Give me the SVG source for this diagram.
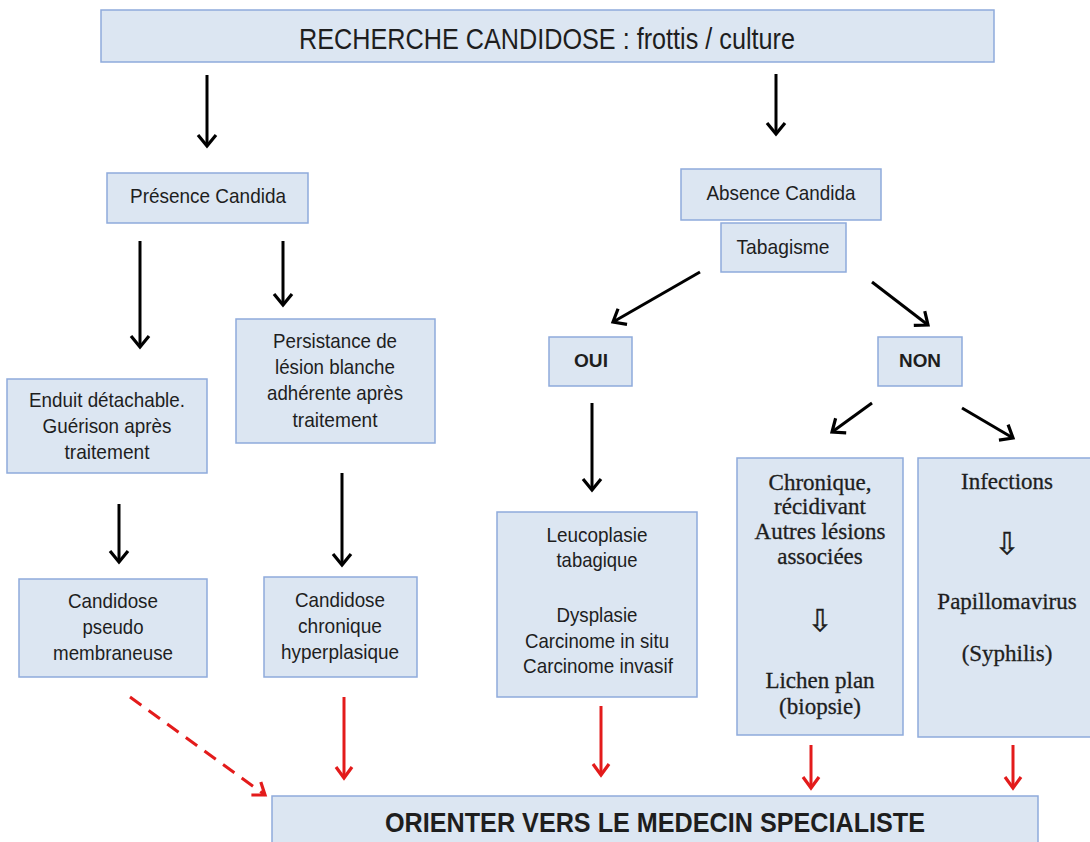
<svg xmlns="http://www.w3.org/2000/svg" width="1090" height="842" viewBox="0 0 1090 842">
<style>
.box{fill:#dce6f2;stroke:#8eaadb;stroke-width:1.5}
.s{font-family:"Liberation Sans",Arial,sans-serif;font-size:21px;fill:#1e1e1e;text-anchor:middle}
.b{font-weight:bold}
.t{font-family:"Liberation Serif","Times New Roman",serif;font-size:23px;fill:#1e1e1e;stroke:#1e1e1e;stroke-width:0.3;text-anchor:middle}
.sym{font-family:"DejaVu Sans",sans-serif;font-size:30px;fill:#1e1e1e;stroke:#1e1e1e;stroke-width:0.4;text-anchor:middle}
.k{stroke:#000;stroke-width:3;fill:none;marker-end:url(#ak)}
.r{stroke:#e31b1b;stroke-width:3;fill:none;marker-end:url(#ar)}
.d{stroke-dasharray:14 9}
</style>
<defs>
<marker id="ak" viewBox="-14 -12 16 24" refX="0" refY="0" markerWidth="16" markerHeight="24" markerUnits="userSpaceOnUse" orient="auto" overflow="visible"><path d="M-11,-9 L0,0 L-11,9" fill="none" stroke="#000" stroke-width="3.2"/></marker>
<marker id="ar" viewBox="-14 -12 16 24" refX="0" refY="0" markerWidth="16" markerHeight="24" markerUnits="userSpaceOnUse" orient="auto" overflow="visible"><path d="M-11,-8 L0,0 L-11,8" fill="none" stroke="#e31b1b" stroke-width="3.2" stroke-dasharray="none"/></marker>
</defs>
<rect width="1090" height="842" fill="#fff"/>

<g id="connectors">
<line class="k" x1="207" y1="75" x2="207" y2="146"/>
<line class="k" x1="776" y1="74" x2="776" y2="134"/>
<line class="k" x1="140" y1="241" x2="140" y2="347"/>
<line class="k" x1="283" y1="241" x2="283" y2="305"/>
<line class="k" x1="119" y1="504" x2="119" y2="562"/>
<line class="k" x1="342" y1="473" x2="342" y2="565"/>
<line class="k" x1="700" y1="272" x2="613" y2="322"/>
<line class="k" x1="872" y1="282" x2="928" y2="325"/>
<line class="k" x1="592" y1="403" x2="592" y2="490"/>
<line class="k" x1="872" y1="403" x2="832" y2="432"/>
<line class="k" x1="962" y1="408" x2="1013" y2="438"/>
<line class="r d" x1="130" y1="697" x2="265" y2="795"/>
<line class="r" x1="344" y1="697" x2="344" y2="778"/>
<line class="r" x1="601" y1="706" x2="601" y2="775"/>
<line class="r" x1="811" y1="745" x2="811" y2="788"/>
<line class="r" x1="1013" y1="745" x2="1013" y2="788"/>
</g>

<g id="recherche">
<rect class="box" x="101" y="10" width="893" height="52"/>
<text class="s" x="547" y="49" style="font-size:29px" textLength="496" lengthAdjust="spacingAndGlyphs">RECHERCHE CANDIDOSE : frottis / culture</text>
</g>

<g id="presence">
<rect class="box" x="107" y="173" width="201" height="50"/>
<text class="s" x="208" y="203" textLength="156" lengthAdjust="spacingAndGlyphs">Présence Candida</text>
</g>

<g id="absence">
<rect class="box" x="681" y="169" width="200" height="51"/>
<text class="s" x="781" y="200" textLength="149" lengthAdjust="spacingAndGlyphs">Absence Candida</text>
</g>

<g id="tabagisme">
<rect class="box" x="721" y="223" width="125" height="49"/>
<text class="s" x="783" y="254" textLength="93" lengthAdjust="spacingAndGlyphs">Tabagisme</text>
</g>

<g id="oui">
<rect class="box" x="549" y="337" width="83" height="49"/>
<text class="s b" x="591" y="367" style="font-size:18px" textLength="34" lengthAdjust="spacingAndGlyphs">OUI</text>
</g>

<g id="non">
<rect class="box" x="878" y="337" width="84" height="49"/>
<text class="s b" x="920" y="367" style="font-size:18px" textLength="42" lengthAdjust="spacingAndGlyphs">NON</text>
</g>

<g id="enduit">
<rect class="box" x="7" y="379" width="200" height="94"/>
<text class="s" x="107" y="407" textLength="156" lengthAdjust="spacingAndGlyphs">Enduit détachable.</text>
<text class="s" x="107" y="433" textLength="129" lengthAdjust="spacingAndGlyphs">Guérison après</text>
<text class="s" x="107" y="459" textLength="85" lengthAdjust="spacingAndGlyphs">traitement</text>
</g>

<g id="persistance">
<rect class="box" x="236" y="319" width="199" height="124"/>
<text class="s" x="335" y="348" textLength="124" lengthAdjust="spacingAndGlyphs">Persistance de</text>
<text class="s" x="335" y="374" textLength="120" lengthAdjust="spacingAndGlyphs">lésion blanche</text>
<text class="s" x="335" y="400" textLength="136" lengthAdjust="spacingAndGlyphs">adhérente après</text>
<text class="s" x="335" y="427" textLength="85" lengthAdjust="spacingAndGlyphs">traitement</text>
</g>

<g id="candidose-pseudo">
<rect class="box" x="19" y="579" width="188" height="98"/>
<text class="s" x="113" y="608" textLength="90" lengthAdjust="spacingAndGlyphs">Candidose</text>
<text class="s" x="113" y="634" textLength="61" lengthAdjust="spacingAndGlyphs">pseudo</text>
<text class="s" x="113" y="660" textLength="120" lengthAdjust="spacingAndGlyphs">membraneuse</text>
</g>

<g id="candidose-chronique">
<rect class="box" x="264" y="577" width="153" height="100"/>
<text class="s" x="340" y="607" textLength="90" lengthAdjust="spacingAndGlyphs">Candidose</text>
<text class="s" x="340" y="633" textLength="84" lengthAdjust="spacingAndGlyphs">chronique</text>
<text class="s" x="340" y="659" textLength="118" lengthAdjust="spacingAndGlyphs">hyperplasique</text>
</g>

<g id="leucoplasie">
<rect class="box" x="497" y="512" width="200" height="185"/>
<text class="s" x="597" y="542" textLength="101" lengthAdjust="spacingAndGlyphs">Leucoplasie</text>
<text class="s" x="597" y="567" textLength="81" lengthAdjust="spacingAndGlyphs">tabagique</text>
<text class="s" x="597" y="622" textLength="81" lengthAdjust="spacingAndGlyphs">Dysplasie</text>
<text class="s" x="597" y="648" textLength="144" lengthAdjust="spacingAndGlyphs">Carcinome in situ</text>
<text class="s" x="598" y="673" textLength="150" lengthAdjust="spacingAndGlyphs">Carcinome invasif</text>
</g>

<g id="chronique">
<rect class="box" x="737" y="458" width="166" height="277"/>
<text class="t" x="820" y="490">Chronique,</text>
<text class="t" x="820" y="514">récidivant</text>
<text class="t" x="820" y="539">Autres lésions</text>
<text class="t" x="820" y="564">associées</text>
<text class="sym" x="820" y="631">⇩</text>
<text class="t" x="820" y="688">Lichen plan</text>
<text class="t" x="820" y="714">(biopsie)</text>
</g>

<g id="infections">
<rect class="box" x="918" y="458" width="175" height="279"/>
<text class="t" x="1007" y="489">Infections</text>
<text class="sym" x="1007" y="554">⇩</text>
<text class="t" x="1007" y="609">Papillomavirus</text>
<text class="t" x="1007" y="661">(Syphilis)</text>
</g>

<g id="orienter">
<rect class="box" x="272" y="796" width="766" height="60"/>
<text class="s b" x="655" y="832" style="font-size:27px" textLength="540" lengthAdjust="spacingAndGlyphs">ORIENTER VERS LE MEDECIN SPECIALISTE</text>
</g>
</svg>
